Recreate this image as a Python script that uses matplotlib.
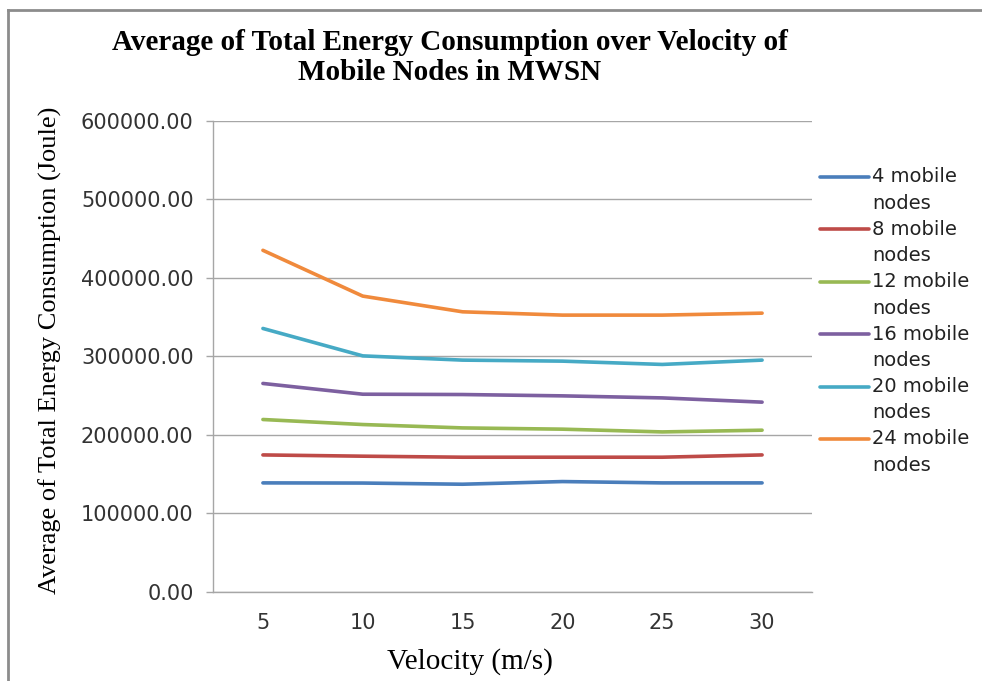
import matplotlib
matplotlib.use('Agg')
import matplotlib.pyplot as plt
from matplotlib.lines import Line2D
from matplotlib.ticker import FormatStrFormatter

velocity = ['5', '10', '15', '20', '25', '30']

series_names = ['4 mobile', '8 mobile', '12 mobile',
                '16 mobile', '20 mobile', '24 mobile']

nodes_4 = [138900, 138700, 137200, 140600, 138900, 138900]
nodes_8 = [174500, 172900, 171600, 171600, 171600, 174500]
nodes_12 = [219600, 213200, 208900, 207300, 203800, 206000]
nodes_16 = [265500, 251800, 251400, 249700, 247100, 241700]
nodes_20 = [335500, 300600, 295200, 293900, 289700, 295200]
nodes_24 = [435000, 376700, 356700, 352500, 352500, 355000]

colors = ['#4A7EBB', '#BE4B48', '#98B954', '#7D60A0', '#46AAC5', '#F08A3C']

W, H = 982, 681
fig = plt.figure(figsize=(W / 100, H / 100), dpi=100)
ax = fig.add_axes([213 / W, 1 - 592 / H, 599 / W, 471.3 / H])

x = list(range(len(velocity)))
all_series = [nodes_4, nodes_8, nodes_12, nodes_16, nodes_20, nodes_24]
for vals, c in zip(all_series, colors):
  ax.plot(x, vals, color=c, linewidth=2.6, solid_capstyle='round')

ax.set_xlim(-0.5, len(velocity) - 0.5)
ax.set_ylim(0, 600000)
ax.set_yticks(range(0, 600001, 100000))
ax.yaxis.set_major_formatter(FormatStrFormatter('%.2f'))
ax.set_xticks(x)
ax.set_xticklabels(velocity)

ax.grid(axis='y', color='#A6A6A6', linewidth=1.0)
ax.set_axisbelow(True)
for side in ['top', 'right']:
  ax.spines[side].set_visible(False)
for side in ['left', 'bottom']:
  ax.spines[side].set_color('#A6A6A6')
  ax.spines[side].set_linewidth(1.0)

ax.tick_params(axis='y', length=5, width=1, color='#A6A6A6', pad=9,
               labelsize=15, labelcolor='#333333')
ax.tick_params(axis='x', length=0, pad=15, labelsize=15, labelcolor='#333333')

serif = 'Liberation Serif'
fig.text(450 / W, 1 - 50 / H, 'Average of Total Energy Consumption over Velocity of',
         ha='center', va='baseline', fontsize=21, fontweight='bold', family=serif)
fig.text(450 / W, 1 - 80 / H, 'Mobile Nodes in MWSN',
         ha='center', va='baseline', fontsize=21, fontweight='bold', family=serif)
fig.text(50 / W, 1 - 350 / H, 'Average of Total Energy Consumption (Joule)',
         rotation=90, ha='center', va='center', fontsize=19, family=serif)
fig.text(470 / W, 1 - 662 / H, 'Velocity (m/s)',
         ha='center', va='center', fontsize=21, family=serif)

# legend, Excel style: line next to the first line of a wrapped label
for i, (name, c) in enumerate(zip(series_names, colors)):
  y0 = 177 + i * 52.4
  fig.add_artist(Line2D([820 / W, 869 / W], [1 - y0 / H, 1 - y0 / H],
                        transform=fig.transFigure, color=c, linewidth=2.6,
                        solid_capstyle='round'))
  fig.text(872 / W, 1 - y0 / H, name, ha='left', va='center', fontsize=14,
           color='#222222')
  fig.text(872 / W, 1 - (y0 + 26.2) / H, 'nodes', ha='left', va='center',
           fontsize=14, color='#222222')

# outer chart border (top and left only are visible)
fig.add_artist(Line2D([8 / W, 8 / W], [0, 1 - 10 / H],
                      transform=fig.transFigure, color='#8C8C8C', linewidth=2))
fig.add_artist(Line2D([8 / W, 1], [1 - 10 / H, 1 - 10 / H],
                      transform=fig.transFigure, color='#8C8C8C', linewidth=2))

fig.savefig('out.png', dpi=100)
